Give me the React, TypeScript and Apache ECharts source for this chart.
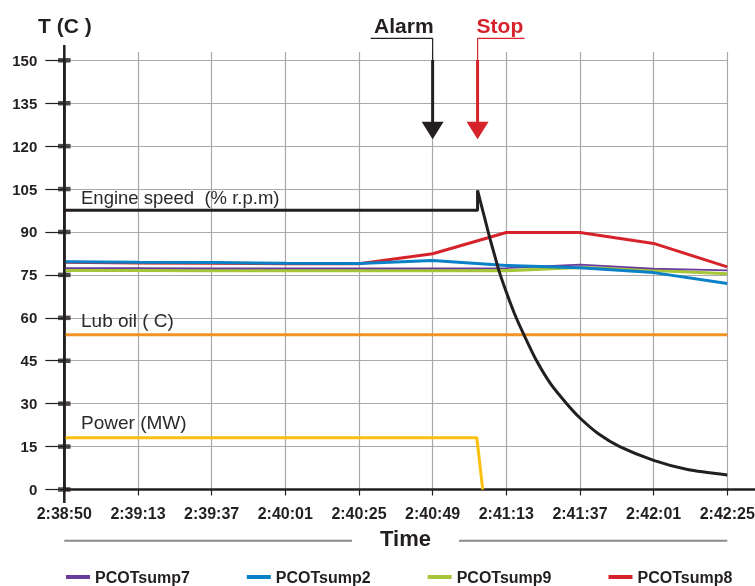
import React, { useEffect, useRef } from "react";
import * as echarts from "echarts";

const tickLabels = ["2:38:50", "2:39:13", "2:39:37", "2:40:01", "2:40:25", "2:40:49", "2:41:13", "2:41:37", "2:42:01", "2:42:25"];
const xIdx = [0, 1, 2, 3, 4, 5, 6, 7, 8, 9];
const yTicks = [0, 15, 30, 45, 60, 75, 90, 105, 120, 135, 150];

const sump7 = [77.4, 77.4, 77.3, 77.3, 77.3, 77.3, 77.4, 78.6, 77.2, 76.6];
const sump2 = [79.6, 79.4, 79.3, 79.1, 79.0, 80.0, 78.3, 77.5, 75.8, 72.0];
const sump9 = [76.6, 76.6, 76.5, 76.5, 76.5, 76.5, 76.5, 77.6, 76.6, 75.4];
const sump8 = [79.4, 79.2, 79.1, 78.9, 78.9, 82.4, 89.8, 89.8, 86.0, 77.8];

const engineSteady = [[0, 97.6], [5.61, 97.6], [5.61, 104.5]];
const engineRunDown = [
  [5.61, 104.5], [5.66, 99.5], [5.72, 93.5], [5.78, 87.5], [5.84, 82], [5.9, 76.5],
  [6.0, 69], [6.11, 61.5], [6.24, 54], [6.4, 45.5], [6.6, 37], [6.82, 30],
  [7.0, 25], [7.25, 19.5], [7.54, 15], [8.0, 10.2], [8.46, 7], [9.0, 5.1],
];
const lubOil = [[0, 54.1], [9, 54.1]];
const power = [[0, 18.1], [5.6, 18.1], [5.68, 0]];

const alarmIdx = 5;
const stopIdx = 5.61;

const FONT = "'Liberation Sans', Arial, Helvetica, sans-serif";
const INK = "#231f20";
const RED = "#d6232b";

export default function App() {
  const ref = useRef<HTMLDivElement>(null);
  useEffect(() => {
    if (!ref.current) return;
    const chart = echarts.init(ref.current, null, { renderer: "svg" });
    const pair = (ys: number[]) => xIdx.map((x, i) => [x, ys[i]]);
    const lineS = (name: string, data: any, color: string, width: number, z = 3, smooth: any = false) => ({
      name,
      type: "line",
      data,
      smooth,
      showSymbol: false,
      symbol: "none",
      z,
      xAxisIndex: 0,
      yAxisIndex: 0,
      lineStyle: { color, width },
      itemStyle: { color },
      silent: true,
    });
    chart.setOption({
      animation: false,
      grid: [
        { left: 64.3, right: 27.7, top: 60.3, bottom: 96.5, outerBoundsMode: "none", containLabel: false },
        { left: 64.3, right: 27.7, top: 52, bottom: 96.5, outerBoundsMode: "none", containLabel: false },
      ],
      xAxis: [
        {
          type: "value", gridIndex: 0, min: 0, max: 9, interval: 1,
          axisLine: { show: true, lineStyle: { color: INK, width: 2.5 } },
          axisTick: { show: true, length: 6, lineStyle: { color: INK, width: 1.2 } },
          axisLabel: {
            margin: 16, color: INK, fontFamily: FONT, fontWeight: "bold", fontSize: 16,
            formatter: (v: number) => tickLabels[Math.round(v)] ?? "",
          },
          splitLine: { show: false },
        },
        {
          type: "value", gridIndex: 1, min: 0, max: 9, interval: 1,
          axisLine: { show: false }, axisTick: { show: false }, axisLabel: { show: false },
          splitLine: { show: true, lineStyle: { color: "#a9a9a9", width: 1.2 } },
        },
      ],
      yAxis: [
        {
          type: "value", gridIndex: 0, min: 0, max: 150, interval: 15,
          axisLine: { show: true, lineStyle: { color: INK, width: 2.5 } },
          axisTick: { show: true, length: 19, lineStyle: { color: INK, width: 1.2 } },
          axisLabel: { margin: 27, color: INK, fontFamily: FONT, fontWeight: "bold", fontSize: 15 },
          splitLine: { show: true, lineStyle: { color: "#a9a9a9", width: 1.2 } },
        },
        { type: "value", gridIndex: 1, min: 0, max: 1, show: false, splitLine: { show: false } },
      ],
      legend: {
        data: ["PCOTsump7", "PCOTsump2", "PCOTsump9", "PCOTsump8"],
        left: 66, top: 569, padding: 0, icon: "rect", itemWidth: 24, itemHeight: 4, itemGap: 57,
        textStyle: { color: INK, fontFamily: FONT, fontWeight: "bold", fontSize: 16, lineHeight: 16 },
      },
      series: [
        lineS("PCOTsump8", pair(sump8), RED, 3, 3),
        lineS("PCOTsump9", pair(sump9), "#a7c539", 3.2, 4),
        lineS("PCOTsump7", pair(sump7), "#6a3d9c", 1.8, 5),
        lineS("PCOTsump2", pair(sump2), "#0a80c6", 3, 6),
        lineS("Lub oil", lubOil, "#f39325", 3, 7),
        lineS("Power", power, "#fdc010", 3, 7),
        lineS("Engine speed", engineSteady, INK, 3, 8),
        lineS("Engine run-down", engineRunDown, INK, 3, 8, 0.25),
        {
          type: "scatter", xAxisIndex: 0, yAxisIndex: 0, silent: true, z: 9,
          data: yTicks.map((v) => [0, v]), symbol: "rect", symbolSize: [12.5, 4.5],
          itemStyle: { color: INK },
        },
      ],
    });

    const px = (x: number, y: number) => chart.convertToPixel({ xAxisIndex: 0, yAxisIndex: 0 }, [x, y]) as number[];
    const [x0, yBottom] = px(0, 0);
    const [x9] = px(9, 0);
    const aX = px(alarmIdx, 0)[0];
    const sX = px(stopIdx, 0)[0];
    const ulY = 38.3, thickY = 60, headTop = 121.7, headTip = 139.3;
    const arrow = (x: number, color: string) => [
      { type: "line", shape: { x1: x, y1: ulY, x2: x, y2: thickY }, style: { stroke: color, lineWidth: 1.2 } },
      { type: "line", shape: { x1: x, y1: thickY, x2: x, y2: headTop + 1 }, style: { stroke: color, lineWidth: 3 } },
      { type: "polygon", shape: { points: [[x - 11, headTop], [x + 11, headTop], [x, headTip]] }, style: { fill: color } },
    ];
    const txt = (x: number, y: number, text: string, font: string, fill: string, align = "left") => ({
      type: "text", x, y, style: { text, font, fill, align, verticalAlign: "middle" },
    });
    chart.setOption({
      graphic: [
        { type: "line", shape: { x1: x0, y1: 45, x2: x0, y2: 503 }, style: { stroke: INK, lineWidth: 2.5 }, z: 10 },
        { type: "line", shape: { x1: x9, y1: yBottom, x2: 755, y2: yBottom }, style: { stroke: INK, lineWidth: 2.5 } },
        txt(38, 25, "T (C )", `bold 21px ${FONT}`, INK),
        txt(380, 538.5, "Time", `bold 22px ${FONT}`, INK),
        { type: "line", shape: { x1: x0, y1: 540.7, x2: 352, y2: 540.7 }, style: { stroke: "#8c8c8c", lineWidth: 2 } },
        { type: "line", shape: { x1: 459, y1: 540.7, x2: x9, y2: 540.7 }, style: { stroke: "#8c8c8c", lineWidth: 2 } },
        txt(aX + 1, 25, "Alarm", `bold 21px ${FONT}`, INK, "right"),
        { type: "line", shape: { x1: aX - 62, y1: ulY, x2: aX, y2: ulY }, style: { stroke: INK, lineWidth: 1.2 } },
        ...arrow(aX, INK),
        txt(sX - 1, 25, "Stop", `bold 21px ${FONT}`, RED),
        { type: "line", shape: { x1: sX, y1: ulY, x2: sX + 47, y2: ulY }, style: { stroke: RED, lineWidth: 1.2 } },
        ...arrow(sX, RED),
        txt(81, 197.5, "Engine speed  (% r.p.m)", `18.5px ${FONT}`, "#2a2a2a"),
        txt(81, 320, "Lub oil ( C)", `19px ${FONT}`, "#2a2a2a"),
        txt(81, 422, "Power (MW)", `19px ${FONT}`, "#2a2a2a"),
      ],
    });
    return () => chart.dispose();
  }, []);
  return <div ref={ref} style={{ position: "fixed", left: 0, top: 0, width: 755, height: 586 }} />;
}
